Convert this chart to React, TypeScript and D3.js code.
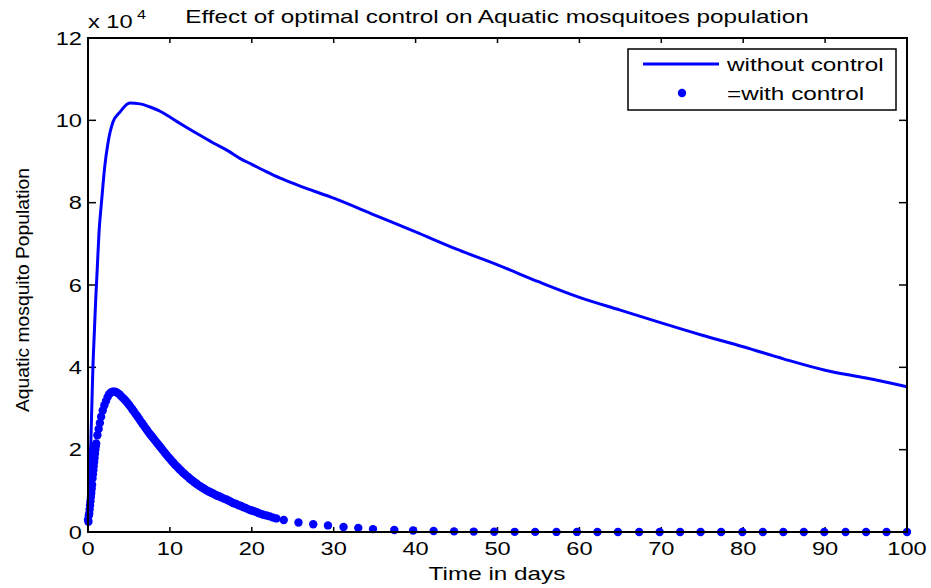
import React from 'react';
import * as d3 from 'd3';

const xTicks = [0, 10, 20, 30, 40, 50, 60, 70, 80, 90, 100];
const yTicks = [0, 2, 4, 6, 8, 10, 12];

// without control (values in units of 10^4)
const withoutT = [0, 0.35, 0.5, 0.6, 0.77, 0.94, 1.14, 1.34, 1.67, 2.04, 2.44, 3.05, 3.9, 5.1, 6.35, 7.5, 8.8, 10, 11.2, 13.3, 15.3, 17, 18.6, 20, 21.7, 23.4, 26.5, 30, 35, 40, 45, 50, 55, 60, 65, 70, 75, 80, 85, 90, 95, 100];
const withoutV = [0.3, 2.2, 3.3, 4.0, 4.83, 5.64, 6.44, 7.26, 8.06, 8.87, 9.45, 9.96, 10.2, 10.42, 10.4, 10.33, 10.22, 10.08, 9.93, 9.68, 9.45, 9.27, 9.07, 8.93, 8.76, 8.6, 8.36, 8.11, 7.7, 7.29, 6.87, 6.49, 6.08, 5.7, 5.39, 5.08, 4.78, 4.5, 4.2, 3.93, 3.74, 3.53];

// with control (values in units of 10^4)
const withT = [
  0, 0.05, 0.1, 0.15, 0.2, 0.25, 0.3, 0.35, 0.4, 0.45, 0.5, 0.55, 0.6, 0.65, 0.7, 0.75, 0.8, 0.85, 0.9, 0.95, 1.0,
  1.15, 1.3, 1.45, 1.6, 1.8, 2.0, 2.2, 2.4, 2.6, 2.8,
  3.0, 3.2, 3.4, 3.6, 3.8, 4.0, 4.2, 4.4, 4.6, 4.8, 5.0, 5.2, 5.4, 5.6, 5.8, 6.0, 6.2, 6.4, 6.6, 6.8,
  7.0, 7.2, 7.4, 7.6, 7.8, 8.0, 8.2, 8.4, 8.6, 8.8, 9.0, 9.2, 9.4, 9.6, 9.8, 10.0, 10.2, 10.4, 10.6, 10.8,
  11.0, 11.2, 11.4, 11.6, 11.8, 12.0, 12.2, 12.4, 12.6, 12.8, 13.0, 13.2, 13.4, 13.6, 13.8, 14.0, 14.2, 14.4, 14.6, 14.8,
  15.0, 15.2, 15.4, 15.6, 15.8, 16.0, 16.3, 16.6, 16.9, 17.2, 17.5, 17.8, 18.1, 18.4, 18.7, 19.0, 19.3, 19.6, 19.9,
  20.2, 20.5, 20.8, 21.1, 21.4, 21.8, 22.2, 22.6, 23.0, 23.9, 25.7, 27.5, 29.3, 31.2, 33.0, 34.8, 37.4, 39.7,
  42.2, 44.7, 47.1, 49.6, 52.1, 54.6, 57.2, 59.7, 62.2, 64.7, 67.3, 69.8, 72.3, 74.8, 77.3, 79.9, 82.4, 84.9,
  87.4, 89.9, 92.5, 95.0, 97.5, 100,
];
const withV = [
  0.3, 0.25, 0.4, 0.45, 0.55, 0.65, 0.75, 0.85, 0.95, 1.05, 1.15, 1.3, 1.4, 1.5, 1.6, 1.7, 1.8, 1.9, 2.0, 2.08, 2.15,
  2.35, 2.5, 2.65, 2.8, 2.95, 3.08, 3.18, 3.28, 3.35, 3.39,
  3.41, 3.41, 3.40, 3.38, 3.35, 3.31, 3.27, 3.23, 3.19, 3.14, 3.09, 3.04, 2.98, 2.93, 2.87, 2.82, 2.76, 2.70, 2.64, 2.59,
  2.53, 2.48, 2.42, 2.37, 2.32, 2.27, 2.22, 2.17, 2.12, 2.07, 2.02, 1.97, 1.92, 1.87, 1.82, 1.78, 1.73, 1.69, 1.64, 1.60,
  1.56, 1.52, 1.48, 1.44, 1.41, 1.37, 1.34, 1.30, 1.27, 1.24, 1.21, 1.18, 1.15, 1.12, 1.10, 1.07, 1.05, 1.02, 1.00, 0.98,
  0.96, 0.94, 0.92, 0.90, 0.88, 0.87, 0.84, 0.81, 0.79, 0.76, 0.73, 0.70, 0.68, 0.65, 0.63, 0.60, 0.58, 0.55, 0.53,
  0.51, 0.49, 0.46, 0.44, 0.42, 0.40, 0.38, 0.35, 0.33, 0.29, 0.23, 0.19, 0.16, 0.12, 0.1, 0.07, 0.05, 0.035,
  0.025, 0.015, 0.01, 0.005, 0.004, 0.003, 0.002, 0.002, 0.001, 0.001, 0.001, 0.001, 0, 0, 0, 0, 0, 0,
  0, 0, 0, 0, 0, 0,
];

const FONT = "'Liberation Sans', Arial, Helvetica, sans-serif";
const SX = 1.35;

function T({ x, y, anchor = 'start', size = 18, children }: any) {
  return (
    <text
      transform={`translate(${x},${y}) scale(${SX},1)`}
      textAnchor={anchor}
      fontSize={size}
      fontFamily={FONT}
      fill="#000"
    >
      {children}
    </text>
  );
}

export default function App() {
  const W = 931, H = 588;
  const L = 88, R = 907, TOP = 38, B = 532;
  const x = d3.scaleLinear().domain([0, 100]).range([L, R]);
  const y = d3.scaleLinear().domain([0, 12]).range([B, TOP]);
  const without = withoutT.map((t, i) => [t, withoutV[i]] as [number, number]);
  const withC = withT.map((t, i) => [t, withV[i]] as [number, number]);
  const line = d3.line<[number, number]>().x(d => x(d[0])).y(d => y(d[1])).curve(d3.curveMonotoneX);
  const blue = '#0000ff';

  return (
    <svg width={W} height={H} style={{ position: 'absolute', left: 0, top: 0, background: '#fff' }}>
      <rect x={0} y={0} width={W} height={H} fill="#fff" />
      {/* ticks */}
      {xTicks.map(t => (
        <g key={'xt' + t}>
          <line x1={x(t)} x2={x(t)} y1={B} y2={B - 5} stroke="#000" strokeWidth={1.5} />
          <line x1={x(t)} x2={x(t)} y1={TOP} y2={TOP + 5} stroke="#000" strokeWidth={1.5} />
          <T x={x(t)} y={555} anchor="middle" size={17.5}>{t}</T>
        </g>
      ))}
      {yTicks.map(t => (
        <g key={'yt' + t}>
          <line x1={L} x2={L + 8} y1={y(t)} y2={y(t)} stroke="#000" strokeWidth={1.5} />
          <line x1={R} x2={R - 8} y1={y(t)} y2={y(t)} stroke="#000" strokeWidth={1.5} />
          <T x={82} y={y(t) + 6.5} anchor="end" size={17.5}>{t}</T>
        </g>
      ))}
      {/* curves */}
      <path d={line(without) || ''} fill="none" stroke={blue} strokeWidth={3} strokeLinejoin="round" />
      {withC.map((d, i) => (
        <circle key={'c' + i} cx={x(d[0])} cy={y(d[1])} r={4.2} fill={blue} />
      ))}
      {/* frame */}
      <rect x={L} y={TOP} width={R - L} height={B - TOP} fill="none" stroke="#000" strokeWidth={2} />
      {/* exponent */}
      <T x={88} y={28} size={17.5}>x 10</T>
      <T x={137} y={19} size={12}>4</T>
      {/* title */}
      <T x={497} y={23} anchor="middle" size={18}>Effect of optimal control on Aquatic mosquitoes population</T>
      {/* x label */}
      <T x={497} y={580} anchor="middle" size={18}>Time in days</T>
      {/* y label */}
      <text
        transform={`translate(29,290) rotate(-90)`}
        textAnchor="middle"
        fontSize={18}
        fontFamily={FONT}
        textLength={244}
        lengthAdjust="spacingAndGlyphs"
      >
        Aquatic mosquito Population
      </text>
      {/* legend */}
      <rect x={628} y={49} width={268} height={61} fill="#fff" stroke="#000" strokeWidth={1.5} />
      <line x1={643} x2={719} y1={64} y2={64} stroke={blue} strokeWidth={3} />
      <T x={727} y={71} size={18}>without control</T>
      <circle cx={682} cy={93} r={4.2} fill={blue} />
      <T x={727} y={100} size={18}>=with control</T>
    </svg>
  );
}
